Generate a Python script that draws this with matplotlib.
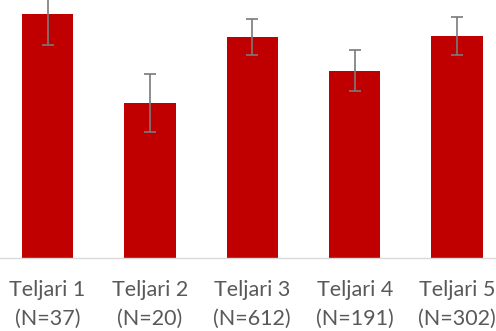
import matplotlib.pyplot as plt
import numpy as np

categories = ['Teljari 1', 'Teljari 2', 'Teljari 3', 'Teljari 4', 'Teljari 5']
counts = [37, 20, 612, 191, 302]
values = [243.7, 155.0, 220.7, 187.3, 222.0]
errors = [30.7, 28.7, 18.0, 20.3, 19.0]

fig = plt.figure(figsize=(4.96, 3.31), dpi=100)
ax = fig.add_axes([0, 73/331, 1, 258/331])

x = np.arange(len(categories))
ax.bar(x, values, width=0.5, color='#C00000', zorder=2)
ax.errorbar(x, values, yerr=errors, fmt='none', ecolor='#7a7a7a',
            elinewidth=1.2, capsize=4.5, capthick=1.2, zorder=3)

ax.set_xlim(-0.464, 4.38)
ax.set_ylim(0, 258)
ax.set_yticks([])
for s in ['top', 'right', 'left']:
    ax.spines[s].set_visible(False)
ax.spines['bottom'].set_color('#d9d9d9')
ax.spines['bottom'].set_linewidth(1)

ax.set_xticks(x)
ax.set_xticklabels([f'{c}\n(N={n})' for c, n in zip(categories, counts)],
                   fontsize=15.5, color='#595959', family='Lato', linespacing=1.55)
ax.tick_params(axis='x', length=0, pad=16)

fig.savefig('out.png', dpi=100)
